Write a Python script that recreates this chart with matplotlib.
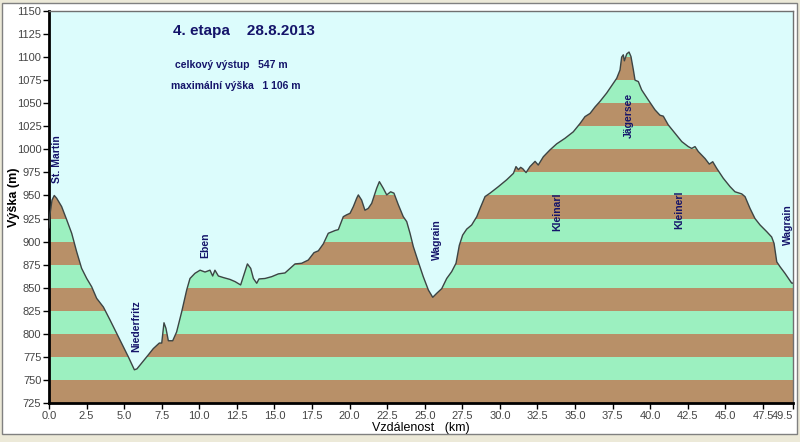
import matplotlib
matplotlib.use("Agg")
import matplotlib.pyplot as plt
from matplotlib.patches import Polygon, Rectangle

plt.rcParams['font.family'] = ['Liberation Sans', 'DejaVu Sans']

distance_km = [0.0, 0.07, 0.2, 0.35, 0.51, 0.84, 1.18, 1.51, 1.84, 2.17, 2.51, 2.84, 3.17, 3.62,
               4.06, 4.5, 4.95, 5.28, 5.68, 5.85, 6.05, 6.5, 6.94, 7.34, 7.5, 7.65, 7.78, 7.94,
               8.23, 8.49, 8.83, 9.16, 9.38, 9.71, 10.05, 10.38, 10.71, 10.89, 11.04, 11.27, 11.6,
               12.04, 12.38, 12.75, 12.93, 13.2, 13.42, 13.6, 13.82, 13.97, 14.37, 14.82, 15.26,
               15.7, 16.04, 16.37, 16.81, 17.25, 17.63, 17.92, 18.25, 18.58, 19.03, 19.25, 19.58,
               19.8, 20.03, 20.25, 20.47, 20.58, 20.8, 21.02, 21.24, 21.47, 21.8, 21.98, 22.24,
               22.47, 22.73, 22.95, 23.24, 23.57, 23.8, 24.02, 24.24, 24.57, 24.9, 25.24, 25.53,
               25.8, 26.13, 26.46, 26.79, 27.08, 27.3, 27.52, 27.79, 28.12, 28.46, 28.68, 29.01,
               29.34, 29.9, 30.45, 30.9, 31.07, 31.23, 31.38, 31.52, 31.74, 32.0, 32.34, 32.55,
               32.89, 33.33, 33.78, 34.33, 34.88, 35.33, 35.66, 36.0, 36.33, 36.66, 37.1, 37.55,
               37.77, 37.99, 38.1, 38.21, 38.28, 38.44, 38.59, 38.72, 38.88, 38.99, 39.21, 39.43,
               39.87, 40.32, 40.65, 40.87, 41.2, 41.65, 42.1, 42.53, 42.76, 42.98, 43.2, 43.65,
               43.93, 44.16, 44.42, 44.86, 45.31, 45.64, 46.09, 46.31, 46.64, 46.97, 47.31, 47.75,
               48.08, 48.24, 48.42, 48.64, 48.97, 49.2, 49.41, 49.5]
elevation_m = [915, 930, 945, 950, 947, 938, 923.5, 909, 889, 871, 860, 851, 838.5, 829,
               815, 800.6, 786, 775, 761, 762, 766, 775, 784, 790, 790, 812, 806, 792.5,
               792.5, 802, 824, 847.5, 860, 865.6, 869, 867, 869, 862.7, 869, 862.7, 861,
               859, 856.6, 853, 862, 875.8, 871, 860, 854.8, 859.5, 860, 862, 865,
               866, 871, 875.8, 876.5, 880, 888, 890, 897.5, 909, 912, 913, 927,
               929, 930.7, 938, 947, 950.6, 945, 934, 936, 941.5, 957.8, 965, 957.8,
               950.6, 954, 952.5, 940, 927, 921.6, 909, 894.5, 878, 862, 847.5, 839.6,
               844, 849, 860, 867.4, 876.5, 896, 907, 913.5, 918, 927, 936, 948.8,
               952.5, 959.6, 967, 974, 981.3, 978, 980.5, 979, 974.8, 981.3, 987, 983,
               992, 999.4, 1006, 1012, 1019, 1028, 1035.5, 1039, 1046, 1052, 1061, 1071.8,
               1077, 1086, 1100, 1102.5, 1096, 1103.5, 1105.5, 1100.6, 1086, 1075, 1073.5, 1064.5,
               1053.6, 1042.8, 1037, 1036, 1026.5, 1017.5, 1008.4, 1003, 1001, 1003, 997.6, 990,
               984, 986.6, 979.5, 968.7, 959.6, 954, 951.7, 948.7, 936, 925, 918, 910.8,
               905, 898, 878, 872.7, 865.5, 860, 855, 855]

place_names = ["St. Martin", "Niederfritz", "Eben", "Wagrain", "Kleinarl", "Jägersee", "Kleinerl", "Wagrain"]
place_km = [0.53, 5.79, 10.38, 25.8, 33.8, 38.6, 41.94, 49.19]
place_label_base = [963, 780, 882, 880, 912, 1012, 914, 896]

title_text = "4. etapa    28.8.2013"
info_lines = ["celkový výstup   547 m", "maximální výška   1 106 m"]

y_ticks = list(range(725, 1151, 25))
x_ticks = [0.0, 2.5, 5.0, 7.5, 10.0, 12.5, 15.0, 17.5, 20.0, 22.5, 25.0, 27.5, 30.0, 32.5,
           35.0, 37.5, 40.0, 42.5, 45.0, 47.5, 49.5]

GREEN = "#9cf0c0"
BROWN = "#b89068"
BG = "#dcfcfc"
NAVY = "#14146a"

fig = plt.figure(figsize=(8, 4.42), dpi=100)
fig.patch.set_facecolor("#ece9d8")
# white panel with a grey frame
fig.patches.append(Rectangle((2 / 800, 1 - 434 / 442), 795 / 800, 431 / 442, transform=fig.transFigure,
                             facecolor="white", edgecolor="#808080", linewidth=1, zorder=-5))

ax = fig.add_axes([49 / 800, 1 - 403 / 442, 744 / 800, 392 / 442])
ax.set_zorder(2)
ax.set_facecolor(BG)
ax.set_xlim(0, 49.5)
ax.set_ylim(725, 1150)

verts = [(distance_km[0], 725)] + list(zip(distance_km, elevation_m)) + [(distance_km[-1], 725)]
terrain = Polygon(verts, closed=True, facecolor="none", edgecolor="none", transform=ax.transData)
ax.add_patch(terrain)
for i, lo in enumerate(range(725, 1150, 25)):
    band = ax.axhspan(lo, lo + 25, color=BROWN if i % 2 == 0 else GREEN, lw=0, zorder=1)
    band.set_clip_path(terrain)
ax.plot(distance_km, elevation_m, color="#3c4444", lw=1.0, zorder=3)

for name, km, base in zip(place_names, place_km, place_label_base):
    ax.text(km, base, name, rotation=90, ha="center", va="bottom", fontsize=7.5,
            fontweight="bold", color=NAVY, zorder=4)

fig.text(173 / 800, 1 - 31 / 442, title_text, fontsize=11, fontweight="bold", color=NAVY,
         ha="left", va="center", zorder=5)
fig.text(175 / 800, 1 - 65 / 442, info_lines[0], fontsize=7.5, fontweight="bold", color=NAVY,
         ha="left", va="center", zorder=5)
fig.text(171 / 800, 1 - 86 / 442, info_lines[1], fontsize=7.5, fontweight="bold", color=NAVY,
         ha="left", va="center", zorder=5)

ax.set_yticks(y_ticks)
ax.set_yticklabels([str(v) for v in y_ticks])
ax.set_xticks(x_ticks)
ax.set_xticklabels([f"{v:.1f}" for v in x_ticks])
ax.tick_params(axis="both", direction="out", length=4, width=1, labelsize=8, labelcolor="#444444",
               color="black", pad=1.5)
xl = ax.get_xticklabels()
xl[-1].set_ha("right")
xl[-1].set_x(49.5)

for s in ["left", "bottom"]:
    ax.spines[s].set_linewidth(2)
    ax.spines[s].set_color("black")
for s in ["top", "right"]:
    ax.spines[s].set_linewidth(1)
    ax.spines[s].set_color("#707070")

fig.text(14 / 800, 1 - 197 / 442, "Výška (m)", rotation=90, fontsize=9, fontweight="bold",
         ha="center", va="center", color="black", zorder=5)
fig.text(421 / 800, 1 - 428 / 442, "Vzdálenost   (km)", fontsize=9, ha="center", va="center",
         color="black", zorder=5)

fig.savefig("out.png", dpi=100)
